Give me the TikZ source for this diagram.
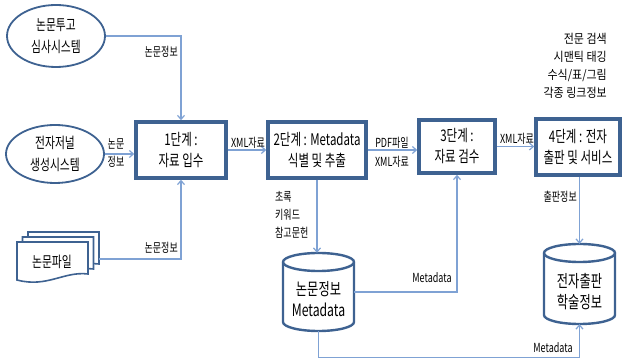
\documentclass[tikz,border=0pt]{standalone}
\usepackage{fontspec}
\setmainfont[FakeStretch=0.72]{Noto Sans CJK KR}
\newfontfamily\krwide[FakeStretch=0.88]{Noto Sans CJK KR}
\usetikzlibrary{shapes.geometric,arrows.meta,calc}
\definecolor{boxc}{HTML}{3E6291}
\definecolor{linec}{HTML}{7FA2D4}
\begin{document}
\begin{tikzpicture}[x=1pt,y=1pt,
  stepbox/.style={draw=boxc,line width=3.5pt,fill=white,inner sep=0pt,align=center,font=\fontsize{16}{21}\selectfont},
  srcell/.style={ellipse,draw=boxc,line width=1.8pt,fill=white,inner sep=0pt,align=center,font=\fontsize{15}{22}\selectfont,minimum width=98,minimum height=62},
  cylshape/.style={draw=boxc,line width=2.4pt,fill=white},
  holder/.style={inner sep=0pt},
  bigtxt/.style={inner sep=0pt,align=center,font=\fontsize{17}{21}\selectfont},
  conn/.style={draw=linec,line width=1.2pt,-{Straight Barb[length=4pt,width=7pt]}},
  lbl/.style={inner sep=0pt,font=\fontsize{12.5}{18}\selectfont}]
\useasboundingbox (0,0) rectangle (624,361);

% source ellipses
\node[srcell] (e1) at (56,325) {논문투고\\심사시스템};
\node[srcell,minimum height=58] (e2) at (55,207) {전자저널\\생성시스템};

% document stack
\foreach \ox/\oy in {28/129,22.5/124,17/119}{
  \draw[draw=boxc,line width=1.6pt,fill=white]
    (\ox,\oy) -- ++(71,0) -- ++(0,-32)
    .. controls ++(-24,3) and ++(30,-8) .. ++(-71,-6) -- cycle;
}
\node[inner sep=0pt,font=\fontsize{15}{20}\selectfont] (doc) at (52,99) {논문파일};
\coordinate (docout) at (99,102);

% step boxes
\node[stepbox,minimum width=90,minimum height=56] (b1) at (181,211) {1단계 :\\자료 입수};
\node[stepbox,minimum width=98,minimum height=56] (b2) at (317,211) {2단계 : Metadata\\식별 및 추출};
\node[stepbox,minimum width=76,minimum height=53] (b3) at (457,214.5) {3단계 :\\자료 검수};
\node[stepbox,minimum width=84,minimum height=56] (b4) at (578,214) {4단계 : 전자\\출판 및 서비스};

% cylinders
\draw[cylshape] (283,99) -- (283,39) arc[start angle=180,end angle=360,x radius=35.5,y radius=9]
  -- (354,99) arc[start angle=0,end angle=180,x radius=35.5,y radius=9] -- cycle;
\draw[cylshape,fill=none] (283,99) arc[start angle=180,end angle=360,x radius=35.5,y radius=9];
\node[holder,minimum width=71,minimum height=78] (db1) at (318.5,69) {};
\node[bigtxt] (db1t) at (318.5,62) {논문정보\\Metadata};

\draw[cylshape] (544,108) -- (544,46) arc[start angle=180,end angle=360,x radius=35.5,y radius=9]
  -- (615,108) arc[start angle=0,end angle=180,x radius=35.5,y radius=9] -- cycle;
\draw[cylshape,fill=none] (544,108) arc[start angle=180,end angle=360,x radius=35.5,y radius=9];
\node[holder,minimum width=71,minimum height=80] (db2) at (579.5,77) {};
\node[bigtxt] (db2t) at (579.5,69) {전자출판\\학술정보};

% connectors
\draw[conn] (e1.east) -| (b1.north);
\draw[conn] (e2.east) -- (e2.east -| b1.west);
\draw[conn] (docout) -| (b1.south);
\draw[conn] (b1.east) -- (b2.west);
\draw[conn] (b2.east) -- (b2.east -| b3.west);
\draw[conn] (b3.east) -- (b3.east -| b4.west);
\draw[conn] (b2.south) -- (b2.south |- db1.north);
\draw[conn] (db1.east) -| (b3.south);
\draw[conn] (b4.south -| db2.north) -- (db2.north);
\draw[conn] (db1.south) -- ++(0,-26) -| (db2.south);

% labels
\node[lbl,anchor=east] (l1) at (178,309) {논문정보};
\node[lbl,align=center] (l2) at (116,208) {논문\\정보};
\node[lbl,anchor=east] (l3) at (178,113) {논문정보};
\node[lbl] (l4) at (248,218) {XML자료};
\node[lbl] (l5) at (392,218) {PDF파일};
\node[lbl] (l6) at (392,199) {XML자료};
\node[lbl] (l7) at (517,222) {XML자료};
\node[lbl,align=left,anchor=west] (l8) at (275,146) {초록\\키워드\\참고문헌};
\node[lbl] (l9) at (432,83) {Metadata};
\node[lbl,anchor=east] (l10) at (577,164) {출판정보};
\node[lbl] (l11) at (553,13) {Metadata};
\node[lbl,align=right,anchor=east,font=\krwide\fontsize{12.5}{18}\selectfont] (l12) at (607,295) {전문 검색\\시맨틱 태깅\\수식/표/그림\\각종 링크정보};
\end{tikzpicture}
\end{document}
